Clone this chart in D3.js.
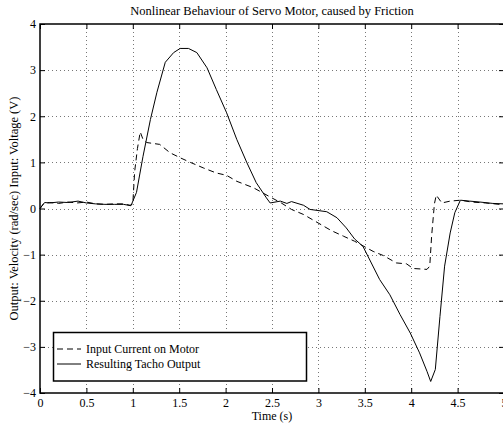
<!DOCTYPE html>
<html>
<head>
<meta charset="utf-8">
<script src="https://cdn.jsdelivr.net/npm/d3@7"></script>
<style>
  body { margin: 0; background: #fff; }
  svg { display: block; }
  svg text { font-family: 'Liberation Serif', 'Times New Roman', serif; }
</style>
</head>
<body>
<svg id="chart" width="503" height="425"></svg>
<script>
const chartTitle = "Nonlinear Behaviour of Servo Motor, caused by Friction",
  xLabel = "Time (s)",
  yLabel = "Output: Velocity (rad/sec) Input: Voltage (V)";

const xTicks = [0, 0.5, 1, 1.5, 2, 2.5, 3, 3.5, 4, 4.5, 5];
const yTicks = [-4, -3, -2, -1, 0, 1, 2, 3, 4];

// input current (dashed)
const inputT = [0, 0.04, 0.1, 0.2, 0.3, 0.4, 0.5, 0.6, 0.7, 0.8, 0.9, 0.97, 1.0, 1.02, 1.05, 1.08, 1.11, 1.15, 1.29, 1.40, 1.51, 1.62, 1.76, 1.90, 2.01, 2.12, 2.30, 2.48, 2.60, 2.71, 2.84, 2.96, 3.14, 3.27, 3.39, 3.59, 3.70, 3.84, 3.95, 4.02, 4.17, 4.20, 4.22, 4.25, 4.27, 4.33, 4.42, 4.53, 4.65, 4.80, 5.0];
const inputV = [0, 0.11, 0.13, 0.11, 0.14, 0.12, 0.14, 0.1, 0.09, 0.1, 0.1, 0.07, 0.1, 0.8, 1.3, 1.66, 1.5, 1.43, 1.39, 1.21, 1.10, 1.0, 0.88, 0.77, 0.72, 0.59, 0.45, 0.25, 0.12, -0.02, -0.13, -0.27, -0.48, -0.6, -0.71, -0.93, -1.02, -1.18, -1.2, -1.3, -1.32, -1.25, -0.6, 0.1, 0.29, 0.12, 0.16, 0.18, 0.14, 0.12, 0.08];

// resulting tacho output (solid)
const tachoT = [0, 0.05, 0.1, 0.2, 0.3, 0.41, 0.5, 0.6, 0.7, 0.8, 0.9, 0.98, 1.04, 1.11, 1.19, 1.26, 1.35, 1.44, 1.51, 1.60, 1.69, 1.80, 1.90, 2.01, 2.12, 2.23, 2.33, 2.44, 2.48, 2.59, 2.66, 2.71, 2.84, 2.91, 3.09, 3.20, 3.30, 3.39, 3.48, 3.66, 3.77, 3.88, 3.99, 4.09, 4.17, 4.21, 4.26, 4.31, 4.36, 4.42, 4.47, 4.53, 4.63, 4.74, 4.88, 5.0];
const tachoV = [0, 0.13, 0.12, 0.14, 0.13, 0.16, 0.12, 0.1, 0.09, 0.09, 0.09, 0.06, 0.35, 1.13, 1.93, 2.52, 3.17, 3.38, 3.47, 3.47, 3.38, 3.05, 2.58, 2.08, 1.50, 0.99, 0.56, 0.23, 0.12, 0.16, 0.11, 0.15, 0.07, -0.02, -0.07, -0.2, -0.42, -0.66, -0.82, -1.54, -1.87, -2.3, -2.7, -3.13, -3.53, -3.75, -3.49, -2.34, -1.25, -0.53, -0.09, 0.18, 0.16, 0.14, 0.11, 0.1];

const series = [
  { name: "Input Current on Motor", t: inputT, v: inputV, dash: "6,4" },
  { name: "Resulting Tacho Output", t: tachoT, v: tachoV, dash: null }
];

const margin = { left: 40, right: -1, top: 24, bottom: 32 };
const svg = d3.select("#chart");
const width = 503, height = 425;
const x = d3.scaleLinear().domain([0, 5]).range([margin.left, width - margin.right]);
const y = d3.scaleLinear().domain([-4, 4]).range([height - margin.bottom, margin.top]);

// grid
const grid = svg.append("g").attr("stroke", "#777").attr("stroke-width", 1)
  .attr("stroke-dasharray", "1,3");
grid.selectAll(".gx").data(xTicks.slice(1, -1)).enter().append("line")
  .attr("x1", d => Math.round(x(d)) + 0.5).attr("x2", d => Math.round(x(d)) + 0.5)
  .attr("y1", y(4)).attr("y2", y(-4));
grid.selectAll(".gy").data(yTicks.slice(1, -1)).enter().append("line")
  .attr("y1", d => Math.round(y(d)) + 0.5).attr("y2", d => Math.round(y(d)) + 0.5)
  .attr("x1", x(0)).attr("x2", x(5));

// axes (inner ticks on all sides)
svg.append("g").attr("transform", `translate(0,${y(-4)})`)
  .call(d3.axisBottom(x).tickValues(xTicks).tickSize(-5).tickPadding(5).tickFormat(d3.format("")))
  .call(g => g.select(".domain").remove());
svg.append("g").attr("transform", `translate(0,${y(4)})`)
  .call(d3.axisTop(x).tickValues(xTicks).tickSize(-5).tickFormat(""))
  .call(g => g.select(".domain").remove());
svg.append("g").attr("transform", `translate(${x(0)},0)`)
  .call(d3.axisLeft(y).tickValues(yTicks).tickSize(-5).tickPadding(4).tickFormat(d3.format("")))
  .call(g => g.select(".domain").remove());
svg.append("g").attr("transform", `translate(${x(5)},0)`)
  .call(d3.axisRight(y).tickValues(yTicks).tickSize(-5).tickFormat(""))
  .call(g => g.select(".domain").remove());
svg.selectAll(".tick text").attr("font-size", 12).attr("fill", "#000");
svg.selectAll(".tick line").attr("stroke", "#000");

svg.append("rect").attr("x", x(0)).attr("y", y(4))
  .attr("width", x(5) - x(0)).attr("height", y(-4) - y(4))
  .attr("fill", "none").attr("stroke", "#000").attr("stroke-width", 1.5);

// lines
const line = d3.line().x(d => x(d[0])).y(d => y(d[1]));
series.forEach(s => {
  svg.append("path")
    .datum(s.t.map((t, i) => [t, s.v[i]]))
    .attr("d", line)
    .attr("fill", "none")
    .attr("stroke", "#000")
    .attr("stroke-width", 1)
    .attr("stroke-dasharray", s.dash);
});

// legend
const lg = svg.append("g");
lg.append("rect").attr("x", 53.5).attr("y", 332.5).attr("width", 253).attr("height", 48.5)
  .attr("fill", "#fff").attr("stroke", "#000").attr("stroke-width", 1.5);
series.forEach((s, i) => {
  const yy = 349 + i * 15;
  lg.append("line").attr("x1", 57).attr("x2", 81).attr("y1", yy).attr("y2", yy)
    .attr("stroke", "#000").attr("stroke-dasharray", s.dash);
  lg.append("text").attr("x", 86).attr("y", yy + 4).attr("font-size", 12).text(s.name);
});

// titles
svg.append("text").attr("x", 272).attr("y", 15).attr("text-anchor", "middle")
  .attr("font-size", 12.5).text(chartTitle);
svg.append("text").attr("x", 272).attr("y", 420).attr("text-anchor", "middle")
  .attr("font-size", 12).text(xLabel);
svg.append("text").attr("transform", `translate(18,${y(0)}) rotate(-90)`)
  .attr("text-anchor", "middle").attr("font-size", 12.5).text(yLabel);
</script>
</body>
</html>
